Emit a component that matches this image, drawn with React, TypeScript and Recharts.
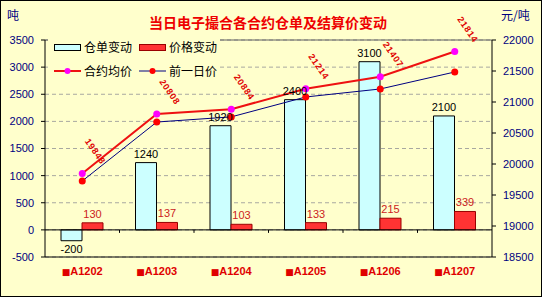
import React from 'react';
import {
  ComposedChart, Bar, Line, XAxis, YAxis, CartesianGrid, ReferenceLine, LabelList,
} from 'recharts';

const categories = ['■A1202', '■A1203', '■A1204', '■A1205', '■A1206', '■A1207'];
const warrantChange = [-200, 1240, 1920, 2400, 3100, 2100];
const priceChange = [130, 137, 103, 133, 215, 339];
const avgPrice = [19848, 20808, 20884, 21214, 21407, 21814];
const prevPrice = [19726, 20677, 20760, 21081, 21210, 21484];
const leftTicks = [-500, 0, 500, 1000, 1500, 2000, 2500, 3000, 3500];
const rightTicks = [18500, 19000, 19500, 20000, 20500, 21000, 21500, 22000];

const seriesNames = {
  warrant: '仓单变动',
  price: '价格变动',
  avg: '合约均价',
  prev: '前一日价',
};

const data = categories.map((cat, i) => ({
  cat,
  warrant: warrantChange[i],
  price: priceChange[i],
  avg: avgPrice[i],
  prev: prevPrice[i],
}));

const BG = '#FFFFCC';
const NAVY = '#000080';
const CYAN = '#CCFFFF';
const RED_BAR = '#FF3333';
const RED_LINE = '#EE1111';
const NUM_FONT = '"Liberation Sans", Arial, sans-serif';
const CJK_FONT = '"Noto Sans CJK SC", sans-serif';

const barLabel = (color: string) => (props: any) => {
  const { x, y, width, height, value } = props;
  const top = Math.min(y, y + height);
  const bottom = Math.max(y, y + height);
  const cx = x + width / 2;
  const ty = value < 0 ? bottom + 12 : top - 5;
  return (
    <text x={cx} y={ty} textAnchor="middle" fill={color} fontSize={11} fontFamily={NUM_FONT}>
      {value}
    </text>
  );
};

const priceLabel = (props: any) => {
  const { x, y, value } = props;
  const cx = x + 13;
  const cy = y - 22;
  return (
    <text
      x={cx}
      y={cy}
      transform={`rotate(55 ${cx} ${cy})`}
      textAnchor="middle"
      dominantBaseline="central"
      fill="#E00000"
      fontSize={9}
      fontWeight="bold"
      letterSpacing={0.8}
      fontFamily={NUM_FONT}
    >
      {value}
    </text>
  );
};

const XTick = (props: any) => {
  const { x, y, payload } = props;
  const s: string = payload.value;
  return (
    <text x={x} y={y} dy={18} textAnchor="middle" fill="#E00000" fontSize={11} fontWeight="bold" fontFamily={NUM_FONT}>
      <tspan fontFamily='"DejaVu Sans", sans-serif' fontSize={9}>{s.slice(0, 1)}</tspan>
      <tspan>{s.slice(1)}</tspan>
    </text>
  );
};

const ZeroLine = (props: any) => {
  const { x1, y1, x2, y2 } = props;
  const n = categories.length;
  const ticks = [];
  for (let i = 1; i < n; i++) {
    const tx = x1 + ((x2 - x1) * i) / n;
    ticks.push(<line key={i} x1={tx} x2={tx} y1={y1} y2={y1 + 3} stroke="#000" strokeWidth={1} />);
  }
  return (
    <g>
      <line x1={x1} y1={y1} x2={x2} y2={y2} stroke="#000" strokeWidth={1} />
      {ticks}
    </g>
  );
};

const Legend = () => (
  <div style={{ position: 'absolute', left: 48, top: 35, width: 172, height: 45, background: BG }}>
    <svg width={172} height={45} style={{ display: 'block' }}>
      <rect x={6.5} y={9.5} width={26} height={6} fill={CYAN} stroke="#000" />
      <text x={36} y={17} fontSize={12} fontFamily={CJK_FONT} fill="#000">{seriesNames.warrant}</text>
      <rect x={91.5} y={9.5} width={26} height={6} fill={RED_BAR} stroke="#990000" />
      <text x={121} y={17} fontSize={12} fontFamily={CJK_FONT} fill="#000">{seriesNames.price}</text>
      <line x1={6} x2={33} y1={36} y2={36} stroke={RED_LINE} strokeWidth={2} />
      <circle cx={19.5} cy={36} r={3} fill="#FF00FF" />
      <text x={36} y={41} fontSize={12} fontFamily={CJK_FONT} fill="#000">{seriesNames.avg}</text>
      <line x1={91} x2={118} y1={36} y2={36} stroke={NAVY} strokeWidth={1} />
      <circle cx={104.5} cy={36} r={3} fill="#FF0000" />
      <text x={121} y={41} fontSize={12} fontFamily={CJK_FONT} fill="#000">{seriesNames.prev}</text>
    </svg>
  </div>
);

export default function App() {
  return (
    <div style={{ position: 'absolute', left: 0, top: 0, width: 542, height: 297, background: BG, overflow: 'hidden' }}>
      <div style={{ position: 'absolute', left: 0, top: 0 }}>
        <ComposedChart
          width={542}
          height={297}
          data={data}
          margin={{ top: 40, right: 0, bottom: 0, left: 0 }}
          barGap={0}
          barSize={21}
        >
          <CartesianGrid yAxisId="left" vertical={false} stroke="#A8A8A0" strokeDasharray="4 3" />
          <XAxis
            dataKey="cat"
            height={40}
            axisLine={false}
            tickLine={false}
            tickSize={0}
            tickMargin={0}
            interval={0}
            tick={<XTick />}
          />
          <YAxis
            yAxisId="left"
            orientation="left"
            width={45}
            domain={[-500, 3500]}
            ticks={leftTicks}
            interval={0}
            tickSize={4}
            tickMargin={7}
            axisLine={{ stroke: '#000' }}
            tickLine={{ stroke: '#000' }}
            tick={{ fill: NAVY, fontSize: 11, fontFamily: NUM_FONT }}
          />
          <YAxis
            yAxisId="right"
            orientation="right"
            width={50}
            domain={[18500, 22000]}
            ticks={rightTicks}
            interval={0}
            tickSize={4}
            tickMargin={7}
            axisLine={{ stroke: '#000' }}
            tickLine={{ stroke: '#000' }}
            tick={{ fill: NAVY, fontSize: 11, fontFamily: NUM_FONT, textAnchor: 'start' }}
          />
          <ReferenceLine yAxisId="left" y={3500} stroke="#606060" />
          <ReferenceLine yAxisId="left" y={-500} stroke="#000" />
          <ReferenceLine yAxisId="left" y={0} shape={ZeroLine} />
          <Bar yAxisId="left" dataKey="warrant" name={seriesNames.warrant} fill={CYAN} stroke="#000" strokeWidth={1} isAnimationActive={false}>
            <LabelList dataKey="warrant" content={barLabel('#000')} />
          </Bar>
          <Bar yAxisId="left" dataKey="price" name={seriesNames.price} fill={RED_BAR} stroke="#990000" strokeWidth={1} isAnimationActive={false}>
            <LabelList dataKey="price" content={barLabel('#CC2222')} />
          </Bar>
          <Line
            yAxisId="right"
            dataKey="prev"
            name={seriesNames.prev}
            stroke={NAVY}
            strokeWidth={1}
            dot={{ r: 3.5, fill: '#FF0000', stroke: '#FF0000', strokeWidth: 0 }}
            isAnimationActive={false}
          />
          <Line
            yAxisId="right"
            dataKey="avg"
            name={seriesNames.avg}
            stroke={RED_LINE}
            strokeWidth={2}
            dot={{ r: 3.5, fill: '#FF00FF', stroke: '#FF00FF', strokeWidth: 0 }}
            isAnimationActive={false}
          >
            <LabelList dataKey="avg" content={priceLabel} />
          </Line>
        </ComposedChart>
      </div>
      <Legend />
      <div style={{ position: 'absolute', left: 0, width: 536, top: 13, textAlign: 'center', color: '#EE0000', fontWeight: 'bold', fontSize: 14, lineHeight: '18px', fontFamily: CJK_FONT }}>
        当日电子撮合各合约仓单及结算价变动
      </div>
      <div style={{ position: 'absolute', left: 7, top: 7, color: NAVY, fontSize: 12, lineHeight: '16px', fontFamily: CJK_FONT }}>吨</div>
      <div style={{ position: 'absolute', left: 501, top: 7, color: NAVY, fontSize: 12, lineHeight: '16px', fontFamily: CJK_FONT }}>元/吨</div>
      <div style={{ position: 'absolute', left: 0, top: 0, width: 542, height: 297, boxSizing: 'border-box', border: '1px solid #000', pointerEvents: 'none' }} />
    </div>
  );
}
